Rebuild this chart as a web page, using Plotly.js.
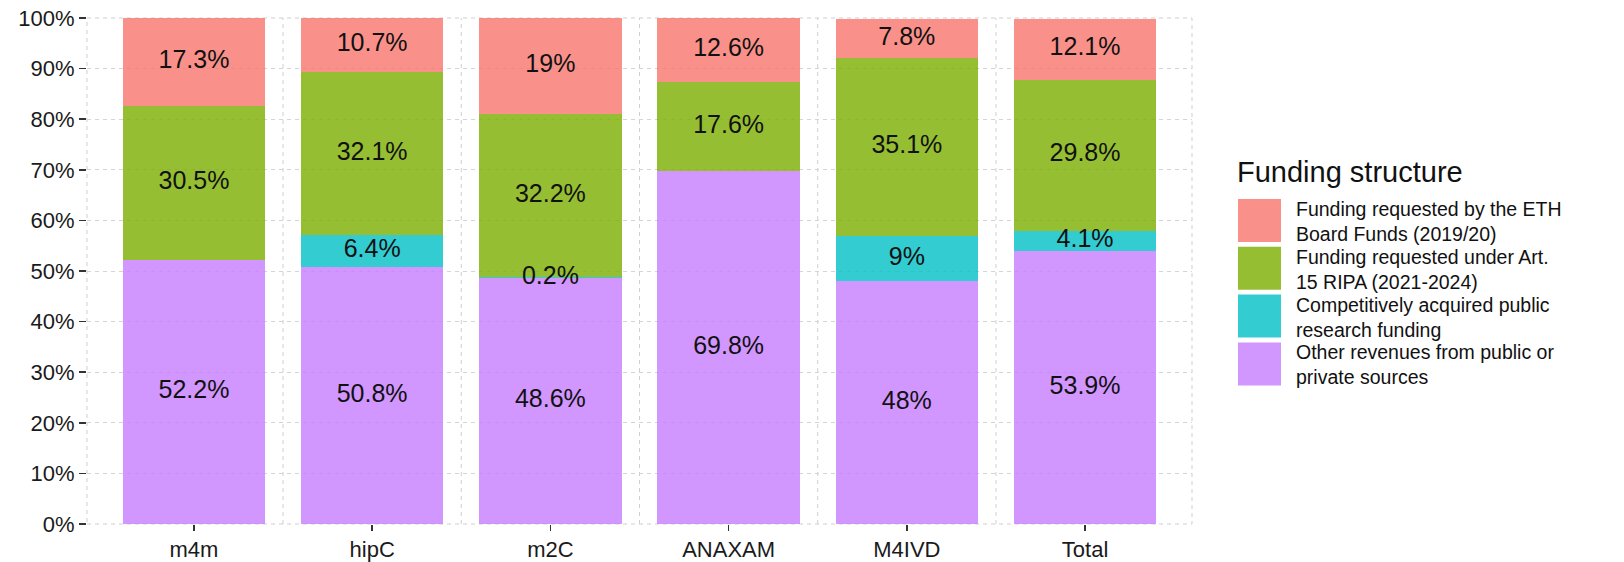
<!DOCTYPE html>
<html>
<head>
<meta charset="utf-8">
<script src="https://cdn.plot.ly/plotly-3.0.1.min.js"></script>
<style>
  html, body { margin: 0; padding: 0; background: #ffffff; }
  #chart { width: 1624px; height: 562px; }
</style>
</head>
<body>
<div id="chart"></div>
<script>
// ---- data ----
const categories = ['m4m', 'hipC', 'm2C', 'ANAXAM', 'M4IVD', 'Total'];
const otherRevenues = [52.2, 50.8, 48.6, 69.8, 48, 53.9];
const competitiveFunding = [0, 6.4, 0.2, 0, 9, 4.1];
const art15Funding = [30.5, 32.1, 32.2, 17.6, 35.1, 29.8];
const ethBoardFunding = [17.3, 10.7, 19, 12.6, 7.8, 12.1];
const yTickValues = [0, 10, 20, 30, 40, 50, 60, 70, 80, 90, 100];
const yTickLabels = ['0%', '10%', '20%', '30%', '40%', '50%', '60%', '70%', '80%', '90%', '100%'];
const legendTitle = 'Funding structure';
// stacking order bottom -> top
const seriesNames = [
  'Other revenues from public or<br>private sources',
  'Competitively acquired public<br>research funding',
  'Funding requested under Art.<br>15 RIPA (2021-2024)',
  'Funding requested by the ETH<br>Board Funds (2019/20)'
];
const seriesValues = [otherRevenues, competitiveFunding, art15Funding, ethBoardFunding];
const seriesColors = ['rgba(199,124,255,0.8)', 'rgba(0,191,196,0.8)', 'rgba(124,174,0,0.8)', 'rgba(248,118,109,0.8)'];

// ---- geometry helpers (pixel -> paper) ----
const M = { l: 87, r: 432, t: 18, b: 38 };
const W = 1624, H = 562;
const PW = W - M.l - M.r, PH = H - M.t - M.b;
const px = p => (p - M.l) / PW;
const py = p => (H - M.b - p) / PH;

const FONT = 'Liberation Sans, Arial, sans-serif';
const traces = [];
seriesValues.forEach((vals, i) => {
  traces.push({
    type: 'bar', x: categories, y: vals, name: seriesNames[i].replace('<br>', ' '),
    width: 0.8, marker: { color: seriesColors[i], line: { width: 0 } },
    showlegend: false, hovertemplate: '%{x}: %{y}%<extra></extra>'
  });
});

// labels at the middle of each segment
const lx = [], ly = [], lt = [];
categories.forEach((c, ci) => {
  let base = 0;
  seriesValues.forEach(vals => {
    const v = vals[ci];
    if (v > 0) { lx.push(c); ly.push(base + v / 2); lt.push(v + '%'); }
    base += v;
  });
});
traces.push({
  type: 'scatter', mode: 'text', x: lx, y: ly, text: lt,
  textfont: { family: FONT, size: 25, color: '#111111' },
  showlegend: false, hoverinfo: 'skip', cliponaxis: false
});

const shapes = [];
const annotations = [];
// vertical dashed lines between categories
for (let i = 0; i < categories.length - 1; i++) {
  shapes.push({ type: 'line', xref: 'x', yref: 'paper', x0: i + 0.5, x1: i + 0.5, y0: 0, y1: 1,
    line: { color: '#cfcfcf', width: 1, dash: '4px,4px' }, layer: 'below' });
}
// dashed panel border
shapes.push({ type: 'rect', xref: 'paper', yref: 'paper', x0: 0, x1: 1, y0: 0, y1: 1,
  line: { color: '#cfcfcf', width: 1, dash: '4px,4px' }, layer: 'below' });

// custom legend (top item = top of stack)
annotations.push({ xref: 'paper', yref: 'paper', x: px(1235), y: py(172), xanchor: 'left', yanchor: 'middle',
  text: legendTitle, showarrow: false, font: { family: FONT, size: 29, color: '#111111' } });
const order = [3, 2, 1, 0];
order.forEach((si, k) => {
  const top = 199 + k * 47.8;
  shapes.push({ type: 'rect', xref: 'paper', yref: 'paper', x0: px(1238), x1: px(1281), y0: py(top + 43), y1: py(top),
    fillcolor: seriesColors[si], line: { width: 0 } });
  annotations.push({ xref: 'paper', yref: 'paper', x: px(1294), y: py(top + 22.5), xanchor: 'left', yanchor: 'middle',
    align: 'left', text: seriesNames[si], showarrow: false, font: { family: FONT, size: 19.5, color: '#111111' } });
});

const layout = {
  width: W, height: H,
  margin: M,
  paper_bgcolor: '#ffffff', plot_bgcolor: '#ffffff',
  barmode: 'stack', bargap: 0.2,
  font: { family: FONT, color: '#1a1a1a' },
  xaxis: {
    type: 'category', range: [-0.6, categories.length - 0.4],
    showgrid: false, zeroline: false, showline: false,
    ticks: 'outside', ticklen: 6, tickwidth: 1.5, tickcolor: '#333333',
    tickfont: { family: FONT, size: 22, color: '#1a1a1a' }, fixedrange: true
  },
  yaxis: {
    range: [0, 100], tickmode: 'array', tickvals: yTickValues, ticktext: yTickLabels,
    showgrid: true, gridcolor: '#d4d4d4', gridwidth: 1, griddash: '4px,4px',
    zeroline: false, showline: false,
    ticks: 'outside', ticklen: 7, tickwidth: 1.5, tickcolor: '#333333',
    tickfont: { family: FONT, size: 22, color: '#1a1a1a' }, fixedrange: true
  },
  shapes: shapes,
  annotations: annotations,
  showlegend: false
};

Plotly.newPlot('chart', traces, layout, { displayModeBar: false, staticPlot: true });
</script>
</body>
</html>
